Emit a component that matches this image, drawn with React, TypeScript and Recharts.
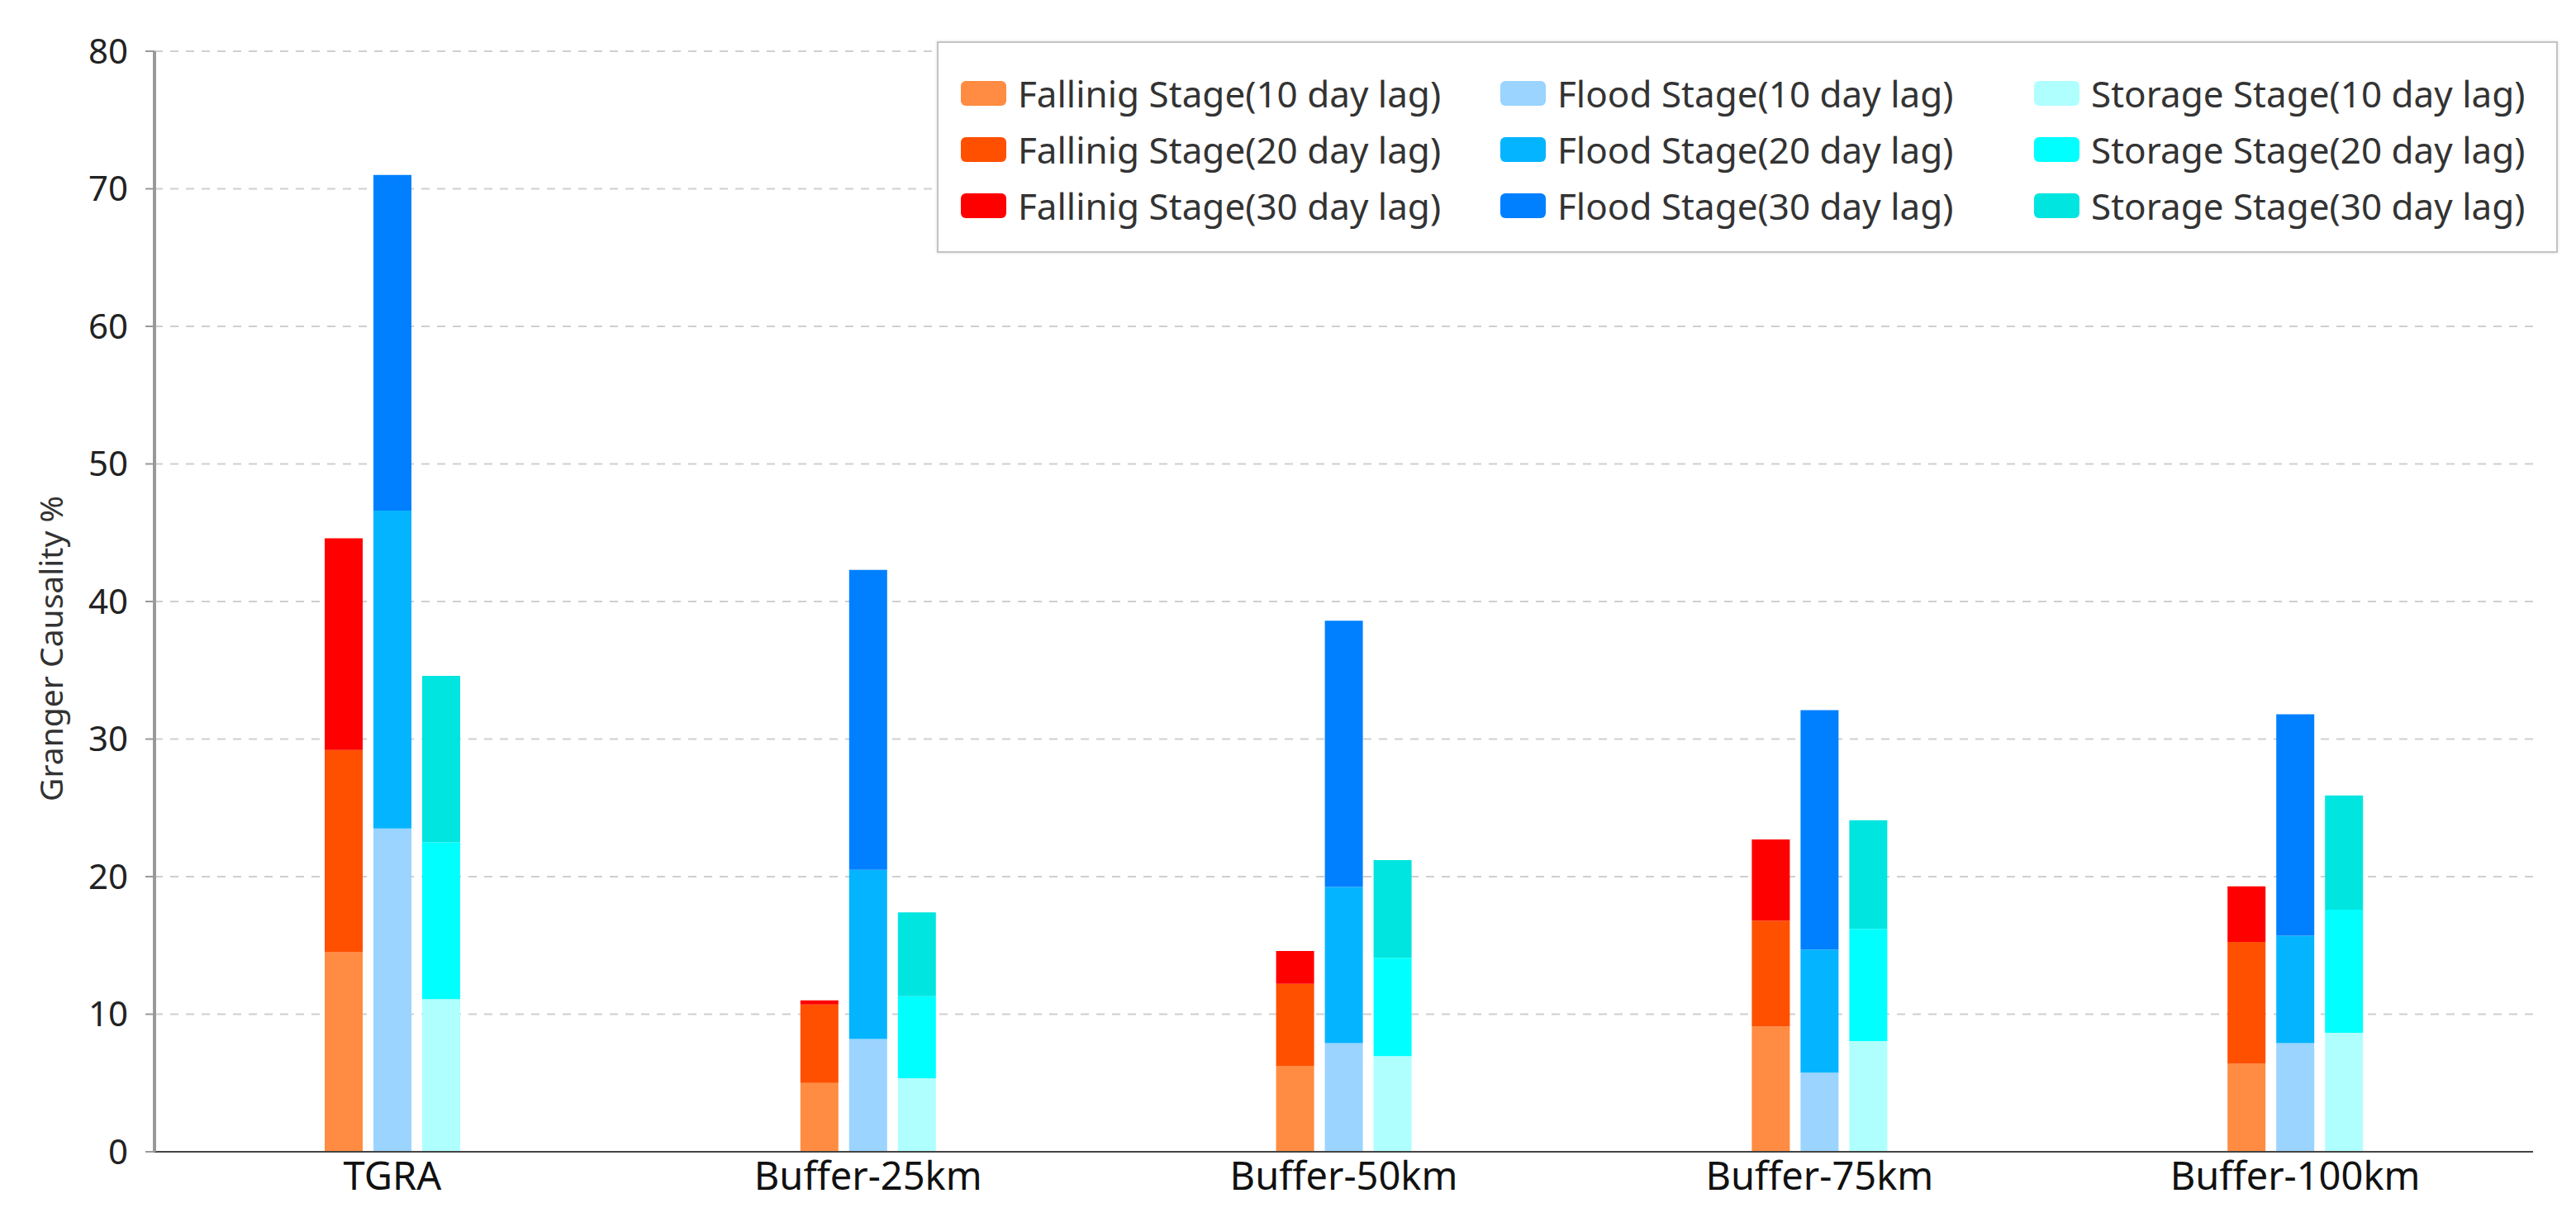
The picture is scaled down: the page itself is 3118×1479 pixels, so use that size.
import React from 'react';
import { BarChart, Bar, XAxis, YAxis, CartesianGrid, Legend } from 'recharts';

const categories = ['TGRA', 'Buffer-25km', 'Buffer-50km', 'Buffer-75km', 'Buffer-100km'];

const falling10 = [14.5, 5.0, 6.25, 9.1, 6.4];
const falling20 = [14.7, 5.7, 5.95, 7.7, 8.85];
const falling30 = [15.4, 0.3, 2.4, 5.9, 4.05];
const flood10 = [23.5, 8.2, 7.9, 5.75, 7.9];
const flood20 = [23.1, 12.3, 11.35, 8.95, 7.8];
const flood30 = [24.4, 21.8, 19.35, 17.4, 16.1];
const storage10 = [11.1, 5.35, 6.95, 8.05, 8.65];
const storage20 = [11.4, 5.95, 7.15, 8.15, 8.95];
const storage30 = [12.1, 6.1, 7.1, 7.9, 8.3];

const yTicks = [0, 10, 20, 30, 40, 50, 60, 70, 80];
const edgeTicks = [0, 1, 2, 3, 4, 5];

const series = [
  { key: 'f10', name: 'Fallinig Stage(10 day lag)', values: falling10, color: '#FF8C42', stack: 'F' },
  { key: 'f20', name: 'Fallinig Stage(20 day lag)', values: falling20, color: '#FF5000', stack: 'F' },
  { key: 'f30', name: 'Fallinig Stage(30 day lag)', values: falling30, color: '#FF0000', stack: 'F' },
  { key: 'fl10', name: 'Flood Stage(10 day lag)', values: flood10, color: '#9AD4FF', stack: 'FL' },
  { key: 'fl20', name: 'Flood Stage(20 day lag)', values: flood20, color: '#05B4FF', stack: 'FL' },
  { key: 'fl30', name: 'Flood Stage(30 day lag)', values: flood30, color: '#0080FF', stack: 'FL' },
  { key: 's10', name: 'Storage Stage(10 day lag)', values: storage10, color: '#B0FFFF', stack: 'S' },
  { key: 's20', name: 'Storage Stage(20 day lag)', values: storage20, color: '#00FFFF', stack: 'S' },
  { key: 's30', name: 'Storage Stage(30 day lag)', values: storage30, color: '#00E5E0', stack: 'S' },
];

const data = categories.map((c, i) => {
  const row: any = { name: c };
  series.forEach((s) => {
    row[s.key] = s.values[i];
  });
  return row;
});

const FONT = '"Noto Sans", "Open Sans", sans-serif';

const legendColumns = [
  { left: 27, keys: ['f10', 'f20', 'f30'] },
  { left: 680, keys: ['fl10', 'fl20', 'fl30'] },
  { left: 1326, keys: ['s10', 's20', 's30'] },
];

const LegendBox = () => (
  <div
    style={{
      position: 'relative',
      width: 1958,
      height: 252,
      border: '2px solid #c4c4c4',
      boxShadow: '0 0 3px rgba(0,0,0,0.15)',
      background: '#fff',
      fontFamily: FONT,
      boxSizing: 'content-box',
    }}
  >
    {legendColumns.map((col) =>
      col.keys.map((k, ri) => {
        const s = series.find((x) => x.key === k)!;
        return (
          <div
            key={k}
            style={{
              position: 'absolute',
              left: col.left,
              top: 36 + ri * 68,
              height: 50,
              display: 'flex',
              alignItems: 'center',
              whiteSpace: 'nowrap',
            }}
          >
            <span
              style={{
                display: 'inline-block',
                width: 55,
                height: 30,
                borderRadius: 6,
                background: s.color,
                marginRight: 14,
              }}
            />
            <span style={{ fontSize: 44, color: '#333', lineHeight: '50px' }}>{s.name}</span>
          </div>
        );
      })
    )}
  </div>
);

const YLabel = (props: any) => {
  const vb = props.viewBox || { x: 0, y: 0, width: 0, height: 0 };
  const cx = vb.x + 60;
  const cy = vb.y + vb.height / 2 + 57;
  return (
    <text
      x={cx}
      y={cy}
      transform={`rotate(-90, ${cx}, ${cy})`}
      textAnchor="middle"
      dominantBaseline="central"
      fontFamily={FONT}
      fontSize={39}
      fill="#333"
    >
      Granger Causality %
    </text>
  );
};

export default function App() {
  return (
    <div style={{ position: 'absolute', left: 0, top: 0, width: 3118, height: 1479, background: '#fff' }}>
      <BarChart
        width={3118}
        height={1479}
        data={data}
        margin={{ top: 62, right: 52, left: 0, bottom: 0 }}
        barSize={46}
        barGap={13}
      >
        <CartesianGrid vertical={false} stroke="#cfcfcf" strokeDasharray="10 9" strokeWidth={2} />
        <XAxis
          xAxisId="edge"
          type="number"
          domain={[0, 5]}
          ticks={edgeTicks}
          height={0}
          axisLine={false}
          tickLine={{ stroke: '#444', strokeWidth: 2 }}
          tickSize={10}
          tick={() => <g />}
          allowDataOverflow
        />
        <XAxis
          dataKey="name"
          height={85}
          axisLine={{ stroke: '#444', strokeWidth: 2 }}
          tickLine={false}
          tickSize={0}
          tickMargin={13}
          tick={{ fontFamily: FONT, fontSize: 47, fill: '#111' }}
          interval={0}
        />
        <YAxis
          width={187}
          domain={[0, 80]}
          ticks={yTicks}
          axisLine={{ stroke: '#999', strokeWidth: 4 }}
          tickLine={{ stroke: '#999', strokeWidth: 2 }}
          tickSize={11}
          tickMargin={21}
          tick={{ fontFamily: FONT, fontSize: 42, fill: '#222' }}
          label={{ content: YLabel }}
        />
        <Legend
          layout="vertical"
          align="center"
          verticalAlign="middle"
          content={() => <LegendBox />}
          wrapperStyle={{ position: 'absolute', left: 1134, top: 50, width: 1962, height: 256 }}
        />
        {series.map((s) => (
          <Bar
            key={s.key}
            dataKey={s.key}
            name={s.name}
            stackId={s.stack}
            fill={s.color}
            isAnimationActive={false}
          />
        ))}
      </BarChart>
    </div>
  );
}
